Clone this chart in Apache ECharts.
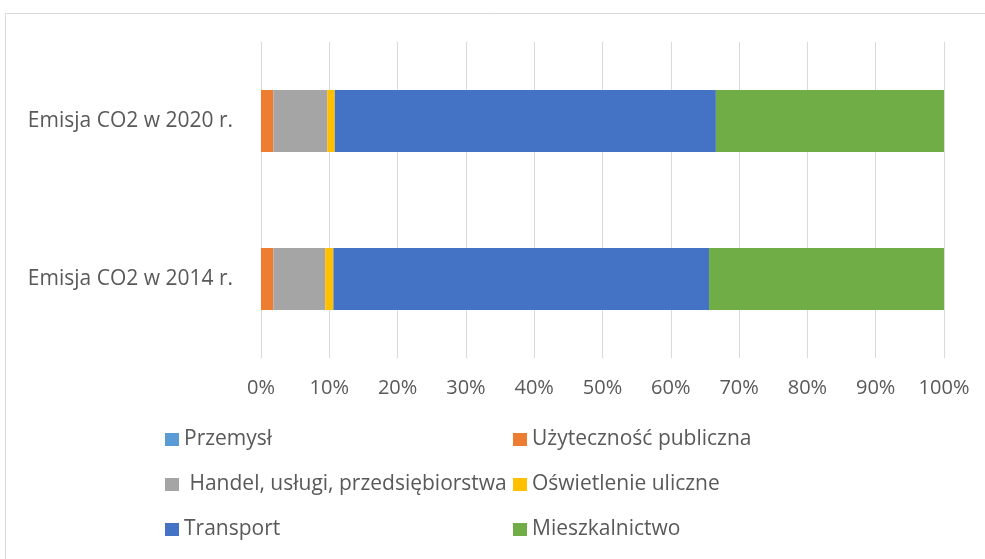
<!DOCTYPE html>
<html>
<head>
<meta charset="utf-8">
<script src="https://cdn.jsdelivr.net/npm/echarts@6/dist/echarts.min.js"></script>
<style>html,body{margin:0;padding:0;background:#fff}#c{width:985px;height:559px}</style>
</head>
<body>
<div id="c"></div>
<script>
const categories = ['Emisja CO2 w 2014 r.', 'Emisja CO2 w 2020 r.'];
const seriesNames = ['Przemysł', 'Użyteczność publiczna', ' Handel, usługi, przedsiębiorstwa', 'Oświetlenie uliczne', 'Transport', 'Mieszkalnictwo'];
const przemysl = [0, 0];
const uzytecznosc = [1.8, 1.8];
const handel = [7.6, 7.9];
const oswietlenie = [1.2, 1.1];
const transport = [55.0, 55.8];
const mieszkalnictwo = [34.4, 33.4];
const colors = ['#5b9bd5', '#ed7d31', '#a5a5a5', '#ffc000', '#4472c4', '#70ad47'];
const tickLabels = ['0%','10%','20%','30%','40%','50%','60%','70%','80%','90%','100%'];

const values = [przemysl, uzytecznosc, handel, oswietlenie, transport, mieszkalnictwo];
const FONT = 'Open Sans';
const chart = echarts.init(document.getElementById('c'));
const legendCommon = {
  orient: 'vertical', top: 429, itemWidth: 14, itemHeight: 13, itemGap: 24, padding: 0,
  icon: 'rect', textStyle: { color: '#595959', fontSize: 21, fontFamily: FONT, padding: [0,0,0,0] }
};
chart.setOption({
  animation: false,
  color: colors,
  textStyle: { fontFamily: FONT },
  graphic: [{
    type: 'rect', shape: { x: 5.5, y: 13.5, width: 1200, height: 800 },
    style: { fill: 'none', stroke: '#d9d9d9', lineWidth: 1 }, silent: true, z: -1
  }],
  grid: { left: 261, right: 41, top: 42, bottom: 201, containLabel: false },
  xAxis: {
    type: 'value', min: 0, max: 100, interval: 10,
    axisLine: { show: false }, axisTick: { show: false },
    splitLine: { show: true, lineStyle: { color: '#d9d9d9', width: 1 } },
    axisLabel: {
      color: '#595959', fontSize: 20, fontFamily: FONT, margin: 20,
      formatter: v => tickLabels[Math.round(v / 10)]
    }
  },
  yAxis: {
    type: 'category', data: categories,
    axisLine: { show: false }, axisTick: { show: false },
    axisLabel: { color: '#595959', fontSize: 21, fontFamily: FONT, margin: 28 }
  },
  legend: [
    Object.assign({ data: [seriesNames[0], seriesNames[2], seriesNames[4]], left: 165 }, legendCommon),
    Object.assign({ data: [seriesNames[1], seriesNames[3], seriesNames[5]], left: 513 }, legendCommon)
  ],
  series: seriesNames.map((n, i) => ({
    name: n, type: 'bar', stack: 'total', data: values[i], barWidth: 62,
    itemStyle: { color: colors[i] }
  }))
});
</script>
</body>
</html>
